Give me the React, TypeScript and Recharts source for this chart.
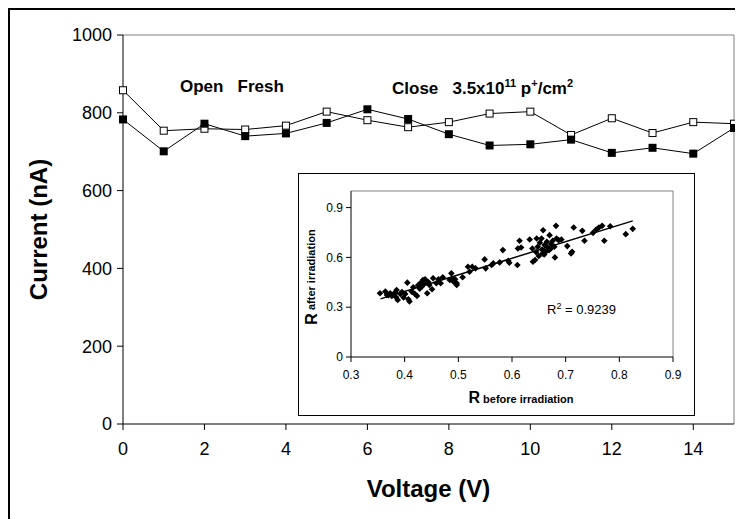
import React from "react";
import {
  LineChart,
  Line,
  XAxis,
  YAxis,
  ReferenceLine,
  Label,
  ScatterChart,
  Scatter,
} from "recharts";

// main chart: current vs voltage
const voltage = [0, 1, 2, 3, 4, 5, 6, 7, 8, 9, 10, 11, 12, 13, 14, 15];
const freshCurrent = [858, 754, 759, 757, 767, 803, 781, 763, 776, 798, 803, 743, 786, 748, 776, 772];
const irradiatedCurrent = [783, 701, 772, 740, 747, 774, 809, 784, 745, 716, 719, 731, 697, 710, 695, 761];
const voltageTicks = [0, 2, 4, 6, 8, 10, 12, 14];
const currentTicks = [0, 200, 400, 600, 800, 1000];

// inset: R after vs R before irradiation
const rBefore = [
  0.354, 0.364, 0.367, 0.373, 0.376, 0.382, 0.384, 0.387, 0.385, 0.392, 0.398, 0.401, 0.405, 0.407,
  0.409, 0.413, 0.416, 0.419, 0.423, 0.425, 0.429, 0.432, 0.434, 0.436, 0.438, 0.441, 0.442, 0.446,
  0.451, 0.453, 0.459, 0.463, 0.467, 0.471, 0.484, 0.487, 0.491, 0.494, 0.497, 0.497, 0.508, 0.518,
  0.521, 0.526, 0.532, 0.549, 0.551, 0.562, 0.565, 0.577, 0.583, 0.593, 0.595, 0.61, 0.611, 0.614,
  0.617, 0.633, 0.638, 0.639, 0.643, 0.646, 0.648, 0.65, 0.652, 0.655, 0.656, 0.657, 0.658, 0.661,
  0.663, 0.665, 0.667, 0.669, 0.67, 0.673, 0.676, 0.679, 0.68, 0.682, 0.683, 0.687, 0.692, 0.703,
  0.71, 0.712, 0.715, 0.731, 0.735, 0.751, 0.757, 0.762, 0.768, 0.772, 0.783, 0.812, 0.825,
  0.37, 0.395, 0.428, 0.444, 0.43, 0.489, 0.645, 0.672, 0.66,
];
const rAfter = [
  0.384, 0.394, 0.374, 0.384, 0.368, 0.388, 0.36, 0.344, 0.404, 0.38, 0.358, 0.38, 0.448, 0.348,
  0.334, 0.394, 0.42, 0.38, 0.368, 0.432, 0.444, 0.424, 0.464, 0.44, 0.468, 0.454, 0.384, 0.434,
  0.408, 0.474, 0.444, 0.468, 0.444, 0.48, 0.464, 0.504, 0.454, 0.468, 0.434, 0.444, 0.48, 0.544,
  0.514, 0.544, 0.534, 0.588, 0.534, 0.554, 0.564, 0.57, 0.644, 0.58, 0.568, 0.554, 0.654, 0.7,
  0.66, 0.708, 0.654, 0.574, 0.584, 0.714, 0.664, 0.608, 0.688, 0.714, 0.648, 0.624, 0.764, 0.674,
  0.634, 0.694, 0.66, 0.644, 0.734, 0.68, 0.7, 0.664, 0.6, 0.79, 0.714, 0.704, 0.708, 0.668,
  0.624, 0.634, 0.78, 0.76, 0.7, 0.748, 0.768, 0.78, 0.79, 0.7, 0.788, 0.74, 0.772,
  0.372, 0.392, 0.412, 0.452, 0.436, 0.47, 0.632, 0.652, 0.618,
];
const trendX = [0.355, 0.825];
const trendY = [0.35, 0.82];
const rBeforeTicks = [0.3, 0.4, 0.5, 0.6, 0.7, 0.8, 0.9];
const rAfterTicks = [0, 0.3, 0.6, 0.9];

const mainData = voltage.map((v, i) => ({ v, fresh: freshCurrent[i], irr: irradiatedCurrent[i] }));
const scatterData = rBefore.map((x, i) => ({ x, y: rAfter[i] }));
const trendData = trendX.map((x, i) => ({ x, y: trendY[i] }));

const FONT = "'Liberation Sans', Arial, sans-serif";

const OpenSquare = (props: any) => {
  const { cx, cy } = props;
  if (cx == null || cy == null) return null;
  return <rect x={cx - 3.5} y={cy - 3.5} width={7} height={7} fill="#fff" stroke="#000" strokeWidth={1} />;
};

const FilledSquare = (props: any) => {
  const { cx, cy } = props;
  if (cx == null || cy == null) return null;
  return <rect x={cx - 4} y={cy - 4} width={8} height={8} fill="#000" />;
};

const Diamond = (props: any) => {
  const { cx, cy } = props;
  const r = 3.3;
  return <polygon points={`${cx},${cy - r} ${cx + r},${cy} ${cx},${cy + r} ${cx - r},${cy}`} fill="#000" />;
};

const NoShape = () => <g />;

const InsetYLabel = (props: any) => {
  const vb = props.viewBox;
  const cx = 12;
  const cy = vb.y + vb.height / 2 + 3;
  return (
    <text x={cx} y={cy} transform={`rotate(-90 ${cx} ${cy})`} textAnchor="middle" fontFamily={FONT} fontWeight="bold" dominantBaseline="central">
      <tspan fontSize={16}>R</tspan>
      <tspan fontSize={11}> after irradiation</tspan>
    </text>
  );
};

const InsetXLabel = (props: any) => {
  const vb = props.viewBox;
  return (
    <text x={vb.x + vb.width / 2 + 9} y={229} textAnchor="middle" fontFamily={FONT} fontWeight="bold">
      <tspan fontSize={16}>R</tspan>
      <tspan fontSize={11}> before irradiation</tspan>
    </text>
  );
};

export default function App() {
  return (
    <div style={{ position: "relative", width: 735, height: 511, fontFamily: FONT, overflow: "hidden" }}>
      <div
        style={{
          position: "absolute",
          left: 0,
          top: 0,
          width: 735,
          height: 511,
          borderLeft: "2px solid #000",
          borderTop: "2px solid #000",
          boxSizing: "border-box",
        }}
      />
      <LineChart width={735} height={511} data={mainData} margin={{ top: 27, right: 9, left: 0, bottom: 15 }}>
        <XAxis
          dataKey="v"
          type="number"
          domain={[0, 15]}
          ticks={voltageTicks}
          height={80}
          tickSize={6}
          tickMargin={12}
          stroke="#000"
          tick={{ fill: "#000", fontSize: 18, fontFamily: FONT }}
        >
          <Label value="Voltage (V)" position="insideBottom" offset={7} style={{ fontSize: 24, fontWeight: "bold", fill: "#000", fontFamily: FONT }} />
        </XAxis>
        <YAxis
          type="number"
          domain={[0, 1000]}
          ticks={currentTicks}
          width={115}
          tickSize={6}
          tickMargin={5}
          stroke="#000"
          tick={{ fill: "#000", fontSize: 18, fontFamily: FONT }}
        >
          <Label
            value="Current (nA)"
            angle={-90}
            position="insideLeft"
            offset={30}
            style={{ fontSize: 24, fontWeight: "bold", fill: "#000", fontFamily: FONT, textAnchor: "middle" }}
          />
        </YAxis>
        <ReferenceLine y={1000} stroke="#808080" />
        <ReferenceLine x={15} stroke="#808080" />
        <Line dataKey="fresh" stroke="#000" strokeWidth={1} dot={<OpenSquare />} activeDot={false} isAnimationActive={false} />
        <Line dataKey="irr" stroke="#000" strokeWidth={1} dot={<FilledSquare />} activeDot={false} isAnimationActive={false} />
      </LineChart>

      <div style={{ position: "absolute", left: 172, top: 69, fontSize: 17, fontWeight: "bold", whiteSpace: "pre" }}>
        Open   Fresh
      </div>
      <div style={{ position: "absolute", left: 384, top: 69, fontSize: 17, fontWeight: "bold", whiteSpace: "pre" }}>
        Close   3.5x10<sup style={{ fontSize: 11 }}>11</sup> p<sup style={{ fontSize: 11 }}>+</sup>/cm<sup style={{ fontSize: 11 }}>2</sup>
      </div>

      <div
        style={{
          position: "absolute",
          left: 290,
          top: 165,
          width: 397,
          height: 243,
          border: "1.5px solid #000",
          boxSizing: "border-box",
          background: "#fff",
        }}
      >
        <ScatterChart width={394} height={240} margin={{ top: 17, right: 20, left: 0, bottom: 0 }}>
          <XAxis
            dataKey="x"
            type="number"
            domain={[0.3, 0.9]}
            ticks={rBeforeTicks}
            height={57}
            tickSize={5}
            tickMargin={8}
            stroke="#000"
            tick={{ fill: "#000", fontSize: 12, fontFamily: FONT }}
            allowDataOverflow
          >
            <Label content={<InsetXLabel />} />
          </XAxis>
          <YAxis
            dataKey="y"
            type="number"
            domain={[0, 1]}
            ticks={rAfterTicks}
            width={52}
            tickSize={5}
            tickMargin={3}
            stroke="#000"
            tick={{ fill: "#000", fontSize: 12, fontFamily: FONT }}
            allowDataOverflow
          >
            <Label content={<InsetYLabel />} />
          </YAxis>
          <ReferenceLine y={1} stroke="#808080" />
          <ReferenceLine x={0.9} stroke="#808080" />
          <Scatter data={scatterData} shape={<Diamond />} isAnimationActive={false} />
          <Scatter data={trendData} line={{ stroke: "#000", strokeWidth: 1.5 }} shape={<NoShape />} isAnimationActive={false} />
        </ScatterChart>
        <div style={{ position: "absolute", left: 248, top: 127, fontSize: 13 }}>
          R<sup style={{ fontSize: 9 }}>2</sup> = 0.9239
        </div>
      </div>
    </div>
  );
}
